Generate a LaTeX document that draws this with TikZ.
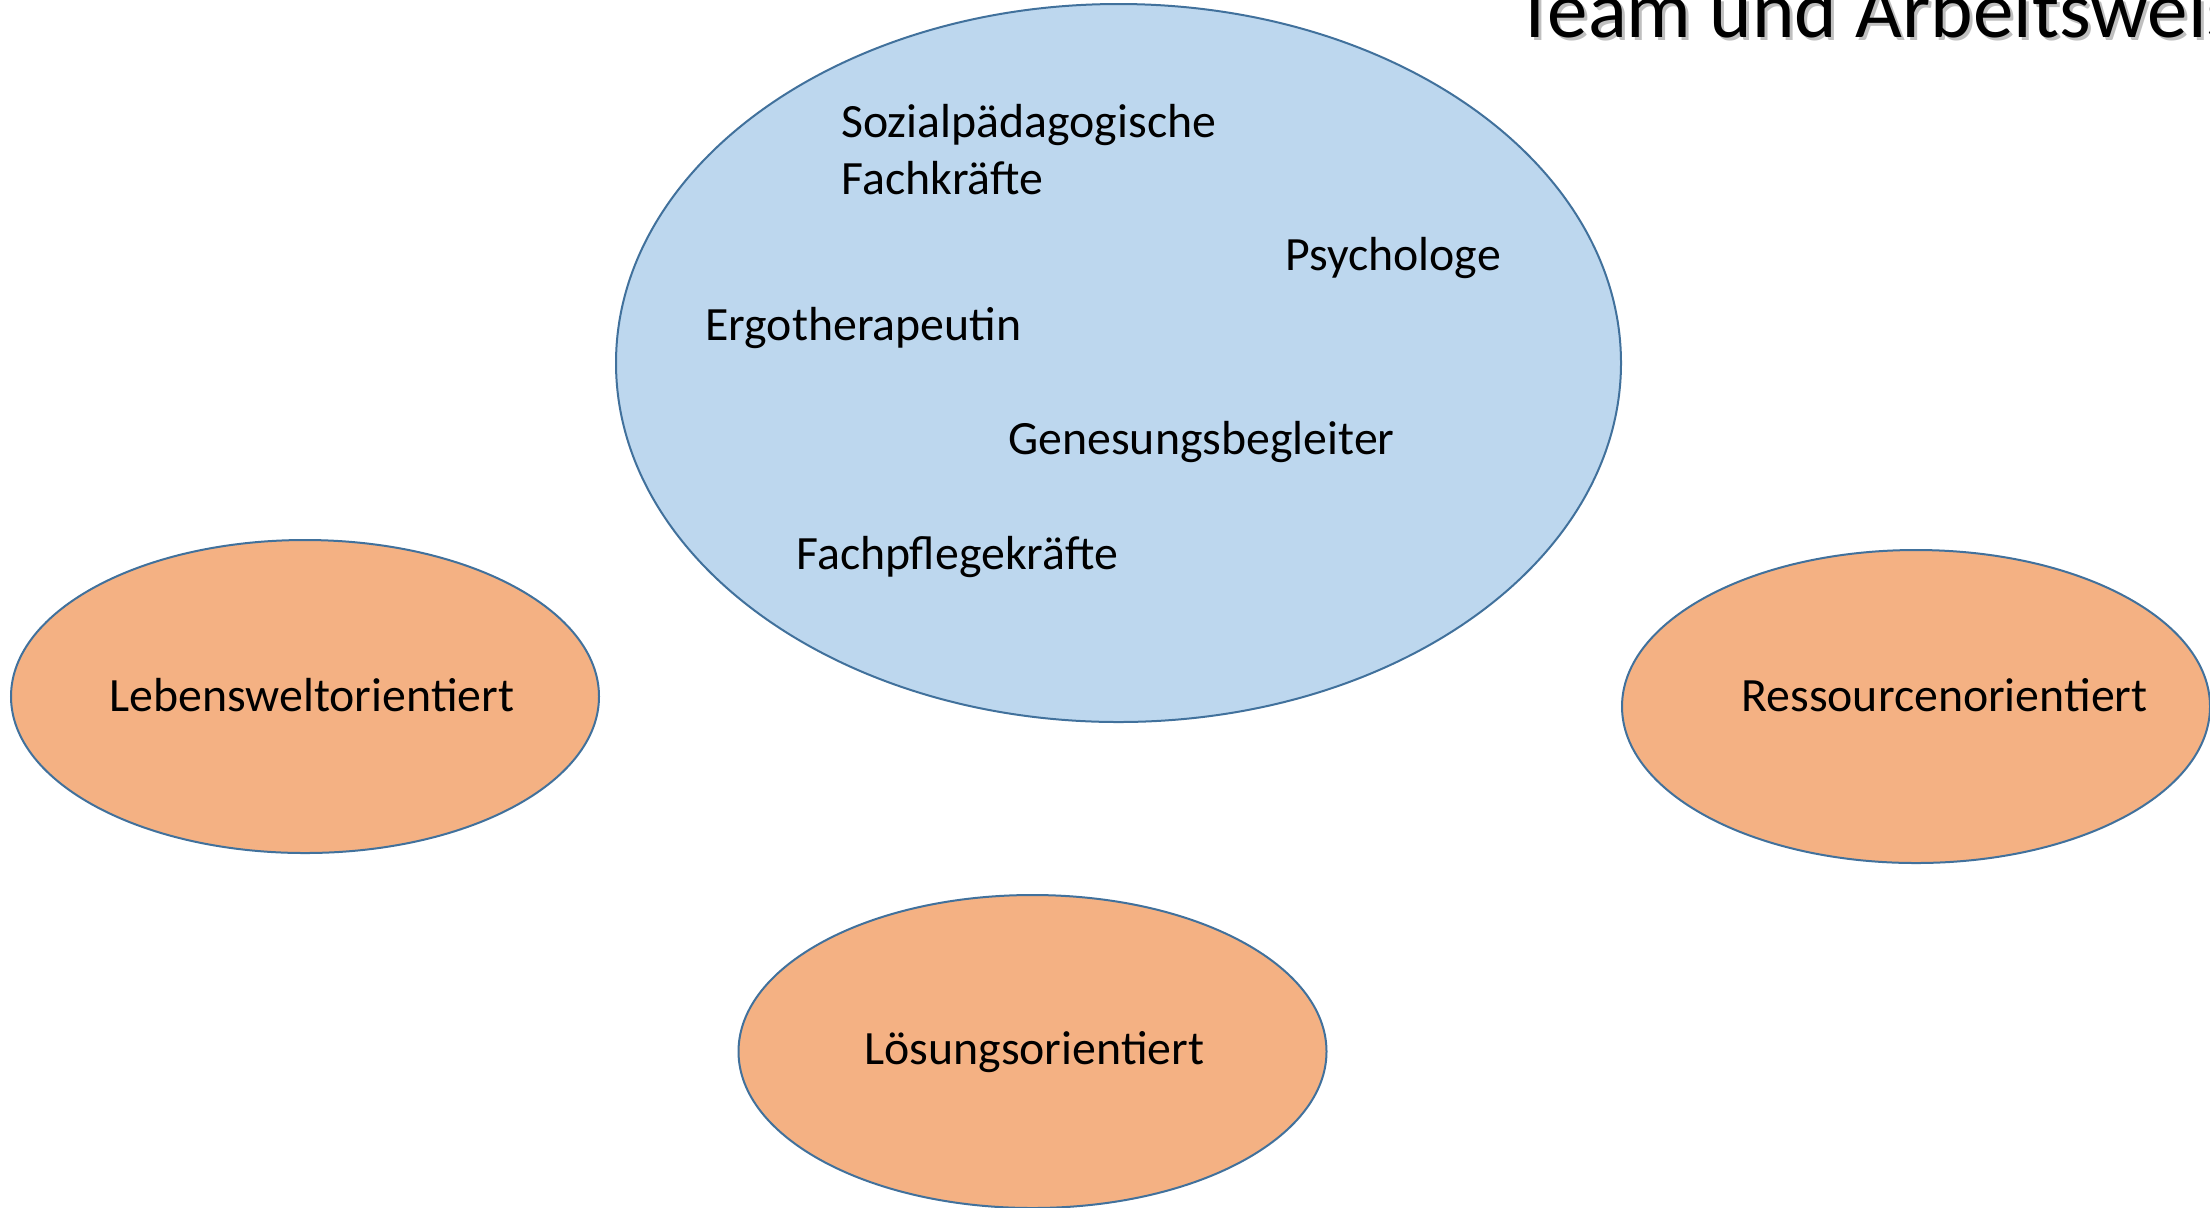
\documentclass[tikz,border=0pt]{standalone}
\usepackage{fontspec}
\setmainfont{Carlito}
\usetikzlibrary{shapes.geometric}
\definecolor{blueFill}{HTML}{BDD7EE}
\definecolor{orangeFill}{HTML}{F4B183}
\definecolor{edgeBlue}{HTML}{41719C}
\tikzset{
  bigell/.style={ellipse, draw=edgeBlue, line width=1pt, fill=blueFill, inner sep=0pt,
    minimum width=502.5pt, minimum height=359pt},
  smallell/.style={ellipse, draw=edgeBlue, line width=1pt, fill=orangeFill, inner sep=0pt,
    minimum width=294pt, minimum height=156.5pt},
  lbl/.style={anchor=base west, inner sep=0pt, font=\fontsize{23.9pt}{28.5pt}\selectfont, align=left},
  titletxt/.style={anchor=base west, inner sep=0pt, font=\fontsize{40.5pt}{48pt}\selectfont}
}
\begin{document}
\begin{tikzpicture}[x=0.5pt, y=-0.5pt]
\useasboundingbox[fill=white] (0,0) rectangle (2210,1207);
% ellipses
\node[bigell] (team) at (1118.5,363) {};
\node[smallell] (lebenswelt) at (305,696.5) {};
\node[smallell] (ressource) at (1916,706.5) {};
\node[smallell] (loesung) at (1032.5,1051.5) {};
% texts in team ellipse
\node[lbl] (sozial) at (841,194) {Sozialpädagogische\\Fachkräfte};
\node[lbl] (psych) at (1285,270) {Psychologe};
\node[lbl] (ergo) at (705,340) {Ergotherapeutin};
\node[lbl] (genesung) at (1008,454) {Genesungsbegleiter};
\node[lbl] (pflege) at (796,569) {Fachpflegekräfte};
% orientation labels
\node[lbl] (lebtxt) at (109,711) {Lebensweltorientiert};
\node[lbl] (restxt) at (1741,711) {Ressourcenorientiert};
\node[lbl] (loetxt) at (864,1064) {Lösungsorientiert};
% title (cut off at the page edge, as in the reference)
\node[titletxt, text=black!25] (titleshadow) at (1518,40) {Team und Arbeitsweise};
\node[titletxt] (title) at (1515,37) {Team und Arbeitsweise};
\end{tikzpicture}
\end{document}
